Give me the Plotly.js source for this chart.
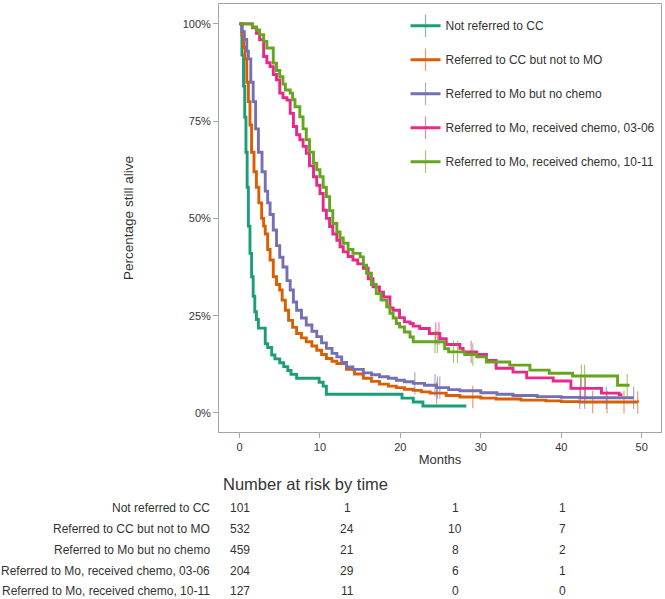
<!DOCTYPE html>
<html>
<head>
<meta charset="utf-8">
<script src="https://cdn.plot.ly/plotly-3.0.1.min.js"></script>
<style>
  html, body { margin: 0; padding: 0; background: #fff; }
  #chart { width: 665px; height: 599px; }
</style>
</head>
<body>
<div id="chart"></div>
<script>
// ---------------- DATA ----------------
const seriesNames = [
  "Not referred to CC",
  "Referred to CC but not to MO",
  "Referred to Mo but no chemo",
  "Referred to Mo, received chemo, 03-06",
  "Referred to Mo, received chemo, 10-11"
];

// Kaplan-Meier step curves (months, % surviving)
const notCC_t = [0, 0.3, 0.5, 0.65, 0.8, 0.95, 1.1, 1.3, 1.5, 1.7, 1.9, 2.1, 2.35, 3.2, 3.5, 4.0, 4.4, 5.0, 5.5, 6.0, 6.4, 7.1, 9.9, 10.4, 10.8, 20.2, 21.6, 22.8, 28.2];
const notCC_s = [100, 92, 84, 76, 67, 58, 48, 41, 35, 30, 26, 24, 21.8, 17.8, 16.8, 14.9, 13.9, 12.9, 11.9, 10.9, 9.9, 8.9, 7.9, 6.9, 4.8, 3.8, 2.8, 1.8, 1.8];
const notCC_c = [];

const ccNoMO_t = [0, 0.3, 0.5, 0.7, 0.9, 1.1, 1.3, 1.5, 1.8, 2.1, 2.4, 2.75, 3.0, 3.2, 3.5, 3.8, 4.2, 4.6, 5.0, 5.3, 5.7, 6.1, 6.6, 7.1, 7.7, 8.3, 9.0, 9.6, 10.2, 10.8, 11.5, 12.1, 13.3, 14.3, 15.4, 16.4, 17.4, 18.5, 19.5, 20.5, 21.6, 22.6, 23.7, 25.7, 27.4, 30.0, 31.9, 35.0, 38.1, 40.0, 42.3, 49.5];
const ccNoMO_s = [100, 97, 94, 91, 85, 80, 74, 67, 62, 58, 54, 50, 48, 46, 42, 39.3, 35, 33, 31.6, 29, 26.4, 23.8, 22, 20.4, 19.3, 18.3, 17.2, 16.1, 15, 14, 13.3, 12.7, 11.2, 10, 8.9, 8.1, 7.4, 6.9, 6.5, 6.1, 5.8, 5.4, 5.1, 4.5, 4.1, 3.8, 3.6, 3.3, 3.1, 2.9, 2.8, 2.7];
const ccNoMO_c = [24.5, 29.0, 43.9, 45.7, 47.8, 49.5];

const moNoChemo_t = [0, 0.3, 0.6, 0.9, 1.1, 1.4, 1.7, 2.0, 2.35, 2.8, 3.2, 3.5, 3.8, 4.2, 4.6, 5.0, 5.4, 5.9, 6.3, 6.7, 7.1, 7.7, 8.3, 9.0, 9.6, 10.2, 10.8, 11.5, 12.1, 12.7, 13.3, 14.1, 15.4, 16.4, 17.4, 18.5, 19.5, 20.5, 21.6, 23.0, 24.5, 26.0, 27.4, 30.0, 32.0, 34.0, 37.0, 40.0, 42.3, 49.0];
const moNoChemo_s = [100, 98, 96, 93, 91, 85, 80, 73, 67, 62, 57, 54, 51, 47, 43, 40, 37.5, 34, 31.6, 28.5, 26.4, 24.4, 22.6, 21, 19.6, 18, 16.6, 15.3, 14.4, 13, 11.8, 11.2, 10.3, 9.8, 9.3, 8.9, 8.4, 8.0, 7.6, 7.1, 6.5, 6.0, 5.7, 5.2, 4.8, 4.5, 4.2, 4.0, 3.9, 3.9];
const moNoChemo_c = [21.8, 24.3, 24.6, 24.9, 42.3, 42.9, 45.6, 49.0];

const chemo0306_t = [0, 1.6, 2.1, 2.5, 3.0, 3.4, 3.8, 4.2, 4.6, 5.0, 5.4, 5.9, 6.3, 6.7, 7.1, 7.5, 7.9, 8.3, 8.7, 9.2, 9.6, 10.0, 10.4, 10.8, 11.2, 11.6, 12.1, 12.5, 12.9, 13.5, 14.1, 14.7, 15.4, 16.0, 16.6, 17.4, 17.9, 18.7, 19.1, 19.9, 20.5, 21.2, 21.6, 22.4, 23.6, 24.9, 25.7, 27.4, 27.8, 29.5, 30.7, 31.9, 34.0, 35.7, 39.0, 41.2, 45.0, 47.2, 47.6];
const chemo0306_s = [100, 99, 97.6, 95.9, 91.6, 90, 89, 87, 85.6, 82.2, 81, 80.4, 77, 73.6, 71.5, 70.2, 68.5, 66.7, 63.5, 60.7, 58.5, 56.4, 52.1, 50, 47.9, 46, 44.4, 42.7, 41.4, 40.2, 39.3, 38.3, 37.2, 34.5, 32.4, 31, 29.8, 27, 26.4, 24.5, 23.4, 23, 22.3, 21.7, 20.4, 19.1, 17.6, 16.6, 15.7, 15.0, 13.5, 11.5, 10.5, 9.0, 8.2, 6.3, 5.1, 4.7, 4.7];
const chemo0306_c = [24.4, 24.8, 28.8, 42.4, 43.0];

const chemo1011_t = [0, 1.6, 2.1, 2.5, 3.0, 3.4, 4.2, 4.6, 5.0, 5.4, 5.7, 6.3, 6.6, 6.9, 7.5, 7.9, 8.3, 8.7, 9.2, 9.6, 10.0, 10.4, 10.8, 11.2, 11.6, 12.1, 12.5, 12.9, 13.5, 14.1, 15.0, 15.4, 15.8, 16.4, 17.0, 17.6, 18.3, 18.7, 19.1, 19.5, 19.9, 20.5, 21.2, 21.6, 25.5, 26.0, 28.0, 29.5, 30.7, 33.6, 36.1, 38.5, 41.4, 47.0, 48.5];
const chemo1011_s = [100, 99.2, 98.4, 97.2, 95.5, 93.8, 89.9, 88, 86.4, 84.5, 83, 82.2, 80.5, 78.7, 76.1, 73, 70.2, 67, 64.2, 62.5, 60.7, 58, 55.6, 52, 48.7, 46.5, 45, 43.6, 42, 41, 40.1, 38, 35.9, 33, 30.7, 29, 27.3, 25.6, 24.4, 23, 22.1, 20.8, 19.5, 18.3, 16.5, 15.7, 15.0, 14.4, 13.1, 12.3, 11.0, 10.2, 9.5, 7.1, 7.1];
const chemo1011_c = [24.3, 24.6, 26.6, 27.1, 29.0, 42.5, 42.9, 48.2];

const seriesTimes = [notCC_t, ccNoMO_t, moNoChemo_t, chemo0306_t, chemo1011_t];
const seriesSurv = [notCC_s, ccNoMO_s, moNoChemo_s, chemo0306_s, chemo1011_s];
const seriesCensor = [notCC_c, ccNoMO_c, moNoChemo_c, chemo0306_c, chemo1011_c];

// Number at risk table
const riskTimes = [0, 13.4, 26.8, 40.2];
const riskNotCC = [101, 1, 1, 1];
const riskCCNoMO = [532, 24, 10, 7];
const riskMONoChemo = [459, 21, 8, 2];
const riskChemo0306 = [204, 29, 6, 1];
const riskChemo1011 = [127, 11, 0, 0];
const riskCounts = [riskNotCC, riskCCNoMO, riskMONoChemo, riskChemo0306, riskChemo1011];

const yTickVals = [0, 25, 50, 75, 100];
const yTickText = ["0%", "25%", "50%", "75%", "100%"];

// ---------------- STYLE ----------------
const lineColors = ["#1b9e77", "#d95f02", "#7570b3", "#e7298a", "#66a61e"];
const censorColors = ["rgba(27,158,119,0.6)", "rgba(217,95,2,0.6)", "rgba(117,112,179,0.6)", "rgba(231,41,138,0.6)", "rgba(102,166,30,0.6)"];
const FONT = "Liberation Sans, Arial, Helvetica, sans-serif";
const TXT = "#333333";
const AXC = "#a6a6a6";

function stepValue(times, surv, t) {
  let v = surv[0];
  for (let i = 0; i < times.length; i++) { if (times[i] <= t) v = surv[i]; }
  return v;
}

const traces = [];
seriesNames.forEach((name, i) => {
  traces.push({
    x: seriesTimes[i], y: seriesSurv[i], type: "scatter", mode: "lines",
    line: { color: lineColors[i], width: 2.9, shape: "hv" },
    legendgroup: "g" + i, showlegend: false, hoverinfo: "skip"
  });
  if (seriesCensor[i].length) {
    traces.push({
      x: seriesCensor[i], y: seriesCensor[i].map(t => stepValue(seriesTimes[i], seriesSurv[i], t)),
      type: "scatter", mode: "markers",
      marker: { symbol: "line-ns-open", size: 16, color: censorColors[i], line: { color: censorColors[i], width: 1.2 } },
      legendgroup: "g" + i, showlegend: false, hoverinfo: "skip"
    });
  }
});
// legend entries (line + censor tick)
seriesNames.forEach((name, i) => {
  traces.push({
    x: [null], y: [null], type: "scatter", mode: "lines+markers", name: name,
    line: { color: lineColors[i], width: 2.9 },
    marker: { symbol: "line-ns-open", size: 16, color: censorColors[i], line: { color: censorColors[i], width: 1.2 } },
    legendgroup: "g" + i, showlegend: true
  });
});

// plot area pixel geometry: left 219, right 661, top 4, bottom 432
const annotations = [];
const rowY = [-0.1776, -0.2266, -0.2757, -0.3248, -0.3715];
annotations.push({
  text: "Number at risk by time", xref: "paper", yref: "paper", x: 0.195, y: -0.1215,
  xanchor: "center", yanchor: "middle", showarrow: false,
  font: { family: FONT, size: 16.5, color: TXT }
});
seriesNames.forEach((name, i) => {
  annotations.push({
    text: name, xref: "paper", yref: "paper", x: -0.0158, y: rowY[i],
    xanchor: "right", yanchor: "middle", showarrow: false,
    font: { family: FONT, size: 12, color: TXT }
  });
  riskCounts[i].forEach((n, j) => {
    annotations.push({
      text: String(n), xref: "x", yref: "paper", x: riskTimes[j], y: rowY[i],
      xanchor: "center", yanchor: "middle", showarrow: false,
      font: { family: FONT, size: 12, color: TXT }
    });
  });
});

const layout = {
  width: 665, height: 599,
  margin: { l: 219, r: 4, t: 4, b: 167, pad: 0 },
  paper_bgcolor: "#ffffff", plot_bgcolor: "#ffffff",
  font: { family: FONT, color: TXT, size: 11 },
  showlegend: true,
  legend: {
    x: 0.422, y: 0.983, xanchor: "left", yanchor: "top",
    bgcolor: "rgba(0,0,0,0)", borderwidth: 0,
    font: { family: FONT, size: 12, color: TXT },
    traceorder: "grouped", tracegroupgap: 15, itemsizing: "trace"
  },
  xaxis: {
    range: [-2.55, 52.4], tick0: 0, dtick: 10,
    showline: true, mirror: true, linecolor: AXC, linewidth: 1,
    ticks: "outside", ticklen: 5, tickcolor: AXC, tickwidth: 1,
    showgrid: false, zeroline: false,
    tickfont: { family: FONT, size: 11, color: TXT },
    title: { text: "Months", font: { family: FONT, size: 13, color: TXT }, standoff: 2 },
    automargin: false
  },
  yaxis: {
    range: [-4.9, 105.1], tickvals: yTickVals, ticktext: yTickText,
    showline: true, mirror: true, linecolor: AXC, linewidth: 1,
    ticks: "outside", ticklen: 5, tickcolor: AXC, tickwidth: 1,
    showgrid: false, zeroline: false,
    tickfont: { family: FONT, size: 11, color: TXT },
    title: { text: "Percentage still alive", font: { family: FONT, size: 13.5, color: TXT }, standoff: 45 },
    automargin: false
  },
  annotations: annotations
};

Plotly.newPlot("chart", traces, layout, { displayModeBar: false, staticPlot: true });
</script>
</body>
</html>
